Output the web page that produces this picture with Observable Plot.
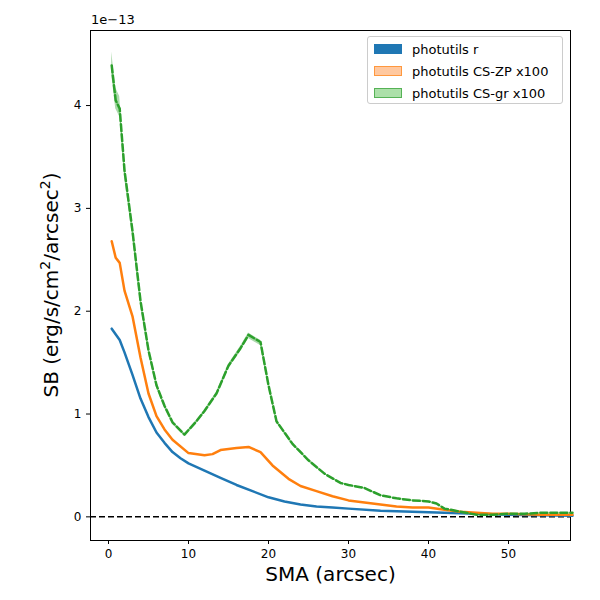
<!DOCTYPE html>
<html><head><meta charset="utf-8">
<script src="https://cdn.jsdelivr.net/npm/d3@7"></script>
<script src="https://cdn.jsdelivr.net/npm/@observablehq/plot@0.6"></script>
<style>
body{margin:0;background:#fff;font-family:"DejaVu Sans",sans-serif;}
#wrap{position:relative;width:600px;height:600px;}
.leg{position:absolute;left:367px;top:36px;width:194px;height:66px;border:1px solid #ccc;border-radius:3px;background:#fff;font-size:13px;}
.leg div{display:flex;align-items:center;height:20px;margin-left:6px;margin-top:2px}
.leg span{display:inline-block;width:28px;height:10px;margin-right:10px}
.exp{position:absolute;left:91px;top:12px;font-size:13px}
</style></head><body>
<div id="wrap"><div id="chart"></div>
<div class="exp">1e−13</div>
<div class="leg">
<div><span style="background:#1f77b4"></span>photutils r</div>
<div><span style="background:#ffbb88;border:1px solid #ff7f0e;box-sizing:border-box;opacity:.8"></span>photutils CS-ZP x100</div>
<div><span style="background:#98d994;border:1px solid #2ca02c;box-sizing:border-box;opacity:.8"></span>photutils CS-gr x100</div>
</div></div>
<script>
const greenX=[0.4,0.9,1.4,2,3,4,5,6,7,8,9.5,11,12,13.5,15,16.5,17.5,19,20,21,23,25,27,29,30,32,34,36,38,40,41,42,44,46,48,50,52,54,56,58];
const greenY=[4.39,4.05,3.97,3.37,2.78,2.1,1.62,1.28,1.08,0.92,0.8,0.93,1.03,1.2,1.47,1.64,1.77,1.7,1.28,0.93,0.71,0.55,0.42,0.33,0.31,0.28,0.21,0.18,0.16,0.15,0.13,0.08,0.05,0.02,0.02,0.03,0.03,0.04,0.04,0.04];
const orangeX=[0.4,0.9,1.4,2,3,4,5,6,7,8,10,12,13,14,16,17.5,19,20.5,22.5,24,26,28,30,32,34,36,38,40,42,44,46,48,50,54,58];
const orangeY=[2.68,2.52,2.47,2.2,1.95,1.55,1.2,0.98,0.85,0.75,0.62,0.6,0.61,0.65,0.67,0.68,0.63,0.5,0.37,0.3,0.25,0.2,0.16,0.14,0.12,0.1,0.09,0.09,0.07,0.05,0.04,0.03,0.03,0.02,0.02];
const blueX=[0.4,1.4,2,3,4,5,6,7,8,9,10,12,14,16,18,20,22,24,26,28,30,34,38,42,46,50,58];
const blueY=[1.83,1.72,1.6,1.38,1.15,0.97,0.82,0.72,0.63,0.57,0.52,0.45,0.38,0.31,0.25,0.19,0.15,0.12,0.1,0.09,0.08,0.06,0.05,0.04,0.03,0.02,0.01];
const green=greenX.map((x,i)=>({x,y:greenY[i]}));
const orange=orangeX.map((x,i)=>({x,y:orangeY[i]}));
const blue=blueX.map((x,i)=>({x,y:blueY[i]}));
const band=green.map((d,i)=>({x:d.x,y1:d.y*0.98,y2:d.y*(i<3?1.03:1.01)}));
const p=Plot.plot({
  width:600,height:600,marginLeft:90,marginRight:30,marginTop:30,marginBottom:60,
  style:{fontFamily:"DejaVu Sans",fontSize:"12px"},
  x:{domain:[-2.25,57.75],ticks:[0,10,20,30,40,50],tickFormat:"d",tickSize:4,label:null},
  y:{domain:[-0.23,4.73],ticks:[0,1,2,3,4],tickFormat:"d",tickSize:4,label:null},
  marks:[
    Plot.frame(),
    Plot.ruleY([0],{stroke:"black",strokeDasharray:"6,3",strokeWidth:1.5}),
    Plot.areaY(band,{x:"x",y1:"y1",y2:"y2",fill:"#2ca02c",fillOpacity:0.4}),
    Plot.line(blue,{x:"x",y:"y",stroke:"#1f77b4",strokeWidth:2.5}),
    Plot.line(orange,{x:"x",y:"y",stroke:"#ff7f0e",strokeWidth:2.5}),
    Plot.line(green,{x:"x",y:"y",stroke:"#2ca02c",strokeWidth:2.5,strokeDasharray:"7,3"}),
    Plot.text(["SMA (arcsec)"],{frameAnchor:"bottom",dy:40,fontSize:20}),
  ]
});
document.getElementById("chart").appendChild(p);
const svg=d3.select(p);
svg.append("text").attr("transform","translate(58,285) rotate(-90)").attr("text-anchor","middle")
 .attr("font-size",20).attr("fill","black")
 .html('SB (erg/s/cm<tspan dy="-8" font-size="14">2</tspan><tspan dy="8">/arcsec</tspan><tspan dy="-8" font-size="14">2</tspan><tspan dy="8">)</tspan>');
</script></body></html>
